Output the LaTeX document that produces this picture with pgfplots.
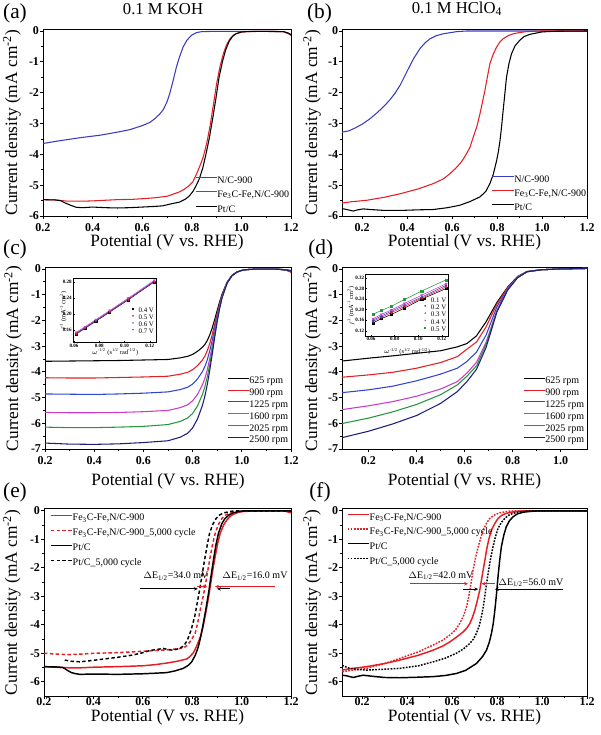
\documentclass[border=0pt]{standalone}
\usepackage{fontspec}
\setmainfont{Liberation Serif}
\usepackage{pgfplots}
\pgfplotsset{compat=1.18}
\usetikzlibrary{arrows.meta}

\definecolor{cblue}{RGB}{60,60,190}
\definecolor{cred}{RGB}{228,30,36}
\definecolor{rblue}{RGB}{50,70,205}
\definecolor{rmag}{RGB}{200,60,200}
\definecolor{rgreen}{RGB}{40,150,60}
\definecolor{rnavy}{RGB}{30,30,120}

\pgfplotsset{
  panel/.style={
    scale only axis,
    axis line style={line width=0.7pt},
    every tick/.style={black, line width=0.6pt},
    tick align=outside,
    xtick pos=bottom, ytick pos=left,
    major tick length=2pt, minor tick length=1.2pt,
    minor x tick num=1, minor y tick num=1,
    tick label style={font=\bfseries\fontsize{9}{9}\selectfont},
    xticklabel style={inner sep=0.5pt, yshift=-2.8pt},
    yticklabel style={inner sep=0.8pt},
    label style={font=\fontsize{13}{13}\selectfont, inner sep=0pt},
    xlabel={Potential (V vs.\ RHE)},
    ylabel={Current density (mA cm\textsuperscript{-2})},
    ylabel style={at={(axis description cs:-0.125,0.5)}, anchor=center},
    legend cell align=left,
    legend style={draw=none, fill=none, inner sep=0pt, outer sep=0pt,
      font=\fontsize{7.5}{8}\selectfont,
      nodes={inner sep=0pt, text height=5.5pt, text depth=1.5pt},
      /tikz/every even column/.append style={column sep=1.5pt}},
    legend image code/.code={\draw[##1] (0pt,2.3pt) -- (16pt,2.3pt);},
    every axis plot/.append style={line width=0.8pt},
  },
  inset/.style={
    scale only axis,
    axis background/.style={fill=white},
    axis line style={line width=0.4pt},
    every tick/.style={black, line width=0.3pt},
    tick align=inside,
    xtick pos=bottom, ytick pos=left,
    major tick length=1.2pt,
    tick label style={font=\bfseries\fontsize{3.8}{4}\selectfont},
    xticklabel style={inner sep=0.6pt},
    yticklabel style={inner sep=1pt},
    label style={font=\fontsize{4.8}{5}\selectfont, inner sep=0pt},
    xlabel={$\omega$\textsuperscript{-1/2} (s\textsuperscript{1/2} rad\textsuperscript{-1/2})},
    ylabel={\textit{j}\textsuperscript{-1} (mA\textsuperscript{-1} cm\textsuperscript{2})},
    xmin=0.0595, xmax=0.1255,
    xtick={0.06,0.08,0.10,0.12},
    xticklabels={0.06,0.08,0.10,0.12},
    legend cell align=left,
    legend style={draw=none, fill=none, inner sep=0pt, outer sep=0pt,
      font=\fontsize{5.2}{5.5}\selectfont,
      /tikz/every even column/.append style={column sep=1pt}},
    legend image code/.code={\draw[##1, draw opacity=0, mark repeat=2, mark phase=2] plot coordinates {(0pt,1.8pt) (2pt,1.8pt) (4pt,1.8pt)};},
    every axis plot/.append style={line width=0.4pt, mark size=0.8pt},
  },
}

\begin{document}
\begin{tikzpicture}
\path[use as bounding box] (0pt,0pt) rectangle (450pt,551.25pt);

% ---------------- (a) ----------------
\begin{axis}[panel, at={(32.25pt,389.25pt)}, anchor=south west,
  width=186pt, height=139.9pt,
  xmin=0.2, xmax=1.2, ymin=-6, ymax=0.05,
  xtick={0.2,0.4,...,1.21}, xticklabels={0.2,0.4,0.6,0.8,1.0,1.2},
  ytick={-6,-5,...,0}, yticklabels={-6,-5,-4,-3,-2,-1,0},
  xlabel style={at={(axis description cs:0.5,-0.14)}, anchor=center},
  legend style={at={(rel axis cs:0.613,0.216)}, anchor=north west, row sep=3.9pt}]
\addplot[cblue] coordinates {(0.2,-3.65) (0.25,-3.58) (0.3,-3.52) (0.35,-3.46) (0.4,-3.41) (0.43,-3.38) (0.5,-3.28) (0.55,-3.2) (0.6,-3.07) (0.63,-2.97) (0.65,-2.85) (0.67,-2.7) (0.685,-2.55) (0.70,-2.3) (0.711,-2.03) (0.725,-1.6) (0.738,-1.17) (0.75,-0.85) (0.765,-0.52) (0.78,-0.3) (0.8,-0.13) (0.82,-0.05) (0.84,-0.02) (0.9,-0.01) (1.0,-0.01) (1.1,-0.01) (1.17,-0.02) (1.2,-0.12)};
\addlegendentry{N/C-900}
\addplot[cred] coordinates {(0.2,-5.47) (0.25,-5.48) (0.3,-5.52) (0.36,-5.52) (0.4,-5.51) (0.45,-5.49) (0.5,-5.47) (0.56,-5.46) (0.6,-5.44) (0.65,-5.41) (0.7,-5.36) (0.75,-5.22) (0.77,-5.13) (0.79,-5.01) (0.805,-4.88) (0.82,-4.62) (0.835,-4.33) (0.846,-4.09) (0.86,-3.65) (0.873,-3.11) (0.887,-2.4) (0.9,-1.71) (0.913,-1.18) (0.927,-0.74) (0.94,-0.45) (0.954,-0.25) (0.967,-0.14) (0.98,-0.08) (1.0,-0.04) (1.02,-0.02) (1.1,-0.01) (1.17,-0.02) (1.19,-0.08) (1.2,-0.15)};
\addlegendentry{Fe\textsubscript{3}C-Fe,N/C-900}
\addplot[black] coordinates {(0.2,-5.47) (0.25,-5.48) (0.27,-5.5) (0.29,-5.58) (0.314,-5.66) (0.335,-5.72) (0.36,-5.73) (0.4,-5.71) (0.45,-5.73) (0.5,-5.74) (0.55,-5.73) (0.6,-5.71) (0.65,-5.69) (0.683,-5.67) (0.72,-5.6) (0.75,-5.55) (0.775,-5.45) (0.79,-5.35) (0.805,-5.2) (0.817,-5.02) (0.83,-4.8) (0.844,-4.45) (0.857,-4.0) (0.87,-3.5) (0.884,-2.85) (0.897,-2.2) (0.91,-1.5) (0.924,-0.98) (0.937,-0.6) (0.951,-0.33) (0.965,-0.17) (0.978,-0.09) (1.0,-0.03) (1.05,-0.01) (1.17,-0.02) (1.19,-0.07) (1.2,-0.12)};
\addlegendentry{Pt/C}
\end{axis}

% ---------------- (b) ----------------
\begin{axis}[panel, at={(256.5pt,389.25pt)}, anchor=south west,
  width=183.75pt, height=139.9pt,
  xmin=0.11, xmax=1.2, ymin=-6, ymax=0.05,
  xtick={0.2,0.4,...,1.21}, xticklabels={0.2,0.4,0.6,0.8,1.0,1.2},
  ytick={-6,-5,...,0}, yticklabels={-6,-5,-4,-3,-2,-1,0},
  ylabel style={at={(axis description cs:-0.122,0.5)}, anchor=center},
  xlabel style={at={(axis description cs:0.5,-0.14)}, anchor=center},
  legend style={at={(rel axis cs:0.612,0.221)}, anchor=north west, row sep=3.5pt}]
\addplot[cblue] coordinates {(0.11,-3.28) (0.14,-3.24) (0.17,-3.14) (0.2,-3.02) (0.23,-2.87) (0.26,-2.69) (0.29,-2.49) (0.32,-2.26) (0.345,-2.03) (0.37,-1.74) (0.398,-1.33) (0.428,-0.9) (0.457,-0.57) (0.48,-0.38) (0.502,-0.25) (0.53,-0.15) (0.561,-0.09) (0.62,-0.02) (0.664,0) (1.2,0)};
\addlegendentry{N/C-900}
\addplot[cred] coordinates {(0.11,-5.58) (0.15,-5.54) (0.22,-5.49) (0.3,-5.39) (0.368,-5.28) (0.45,-5.12) (0.516,-4.95) (0.56,-4.8) (0.59,-4.63) (0.615,-4.46) (0.635,-4.3) (0.65,-4.15) (0.664,-3.98) (0.68,-3.76) (0.694,-3.44) (0.71,-3.1) (0.724,-2.68) (0.735,-2.3) (0.746,-1.92) (0.757,-1.48) (0.768,-1.06) (0.783,-0.75) (0.798,-0.52) (0.812,-0.36) (0.827,-0.25) (0.85,-0.15) (0.872,-0.09) (0.9,-0.05) (0.93,-0.02) (0.99,0) (1.2,0)};
\addlegendentry{Fe\textsubscript{3}C-Fe,N/C-900}
\addplot[black] coordinates {(0.11,-5.76) (0.131,-5.79) (0.16,-5.84) (0.18,-5.8) (0.205,-5.77) (0.235,-5.79) (0.3,-5.82) (0.368,-5.82) (0.45,-5.8) (0.516,-5.79) (0.58,-5.73) (0.635,-5.65) (0.68,-5.53) (0.724,-5.38) (0.75,-5.2) (0.768,-4.95) (0.783,-4.65) (0.798,-4.2) (0.806,-3.9) (0.813,-3.55) (0.82,-3.1) (0.827,-2.57) (0.835,-2.0) (0.842,-1.49) (0.853,-1.05) (0.864,-0.74) (0.88,-0.48) (0.901,-0.3) (0.92,-0.18) (0.945,-0.11) (1.0,-0.03) (1.05,-0.01) (1.2,0)};
\addlegendentry{Pt/C}
\end{axis}

% ---------------- (c) ----------------
\begin{axis}[panel, at={(33.75pt,214.5pt)}, anchor=south west,
  width=184.5pt, height=136pt,
  xmin=0.2, xmax=1.2, ymin=-7, ymax=0.05,
  xtick={0.2,0.4,...,1.21}, xticklabels={0.2,0.4,0.6,0.8,1.0,1.2},
  ytick={-7,-6,...,0}, yticklabels={-7,-6,-5,-4,-3,-2,-1,0},
  ylabel style={at={(axis description cs:-0.13,0.5)}, anchor=center},
  xlabel style={at={(axis description cs:0.5,-0.177)}, anchor=center},
  legend style={at={(rel axis cs:0.74,0.399)}, anchor=north west, row sep=1.85pt}]
\addplot[black] coordinates {(0.2,-3.59) (0.3,-3.58) (0.4,-3.57) (0.5,-3.56) (0.6,-3.54) (0.7,-3.52) (0.75,-3.456) (0.78,-3.397) (0.80,-3.322) (0.82,-3.202) (0.84,-3.044) (0.85,-2.934) (0.86,-2.775) (0.87,-2.558) (0.88,-2.288) (0.89,-1.955) (0.90,-1.608) (0.91,-1.271) (0.92,-0.971) (0.94,-0.516) (0.96,-0.253) (0.98,-0.119) (1.0,-0.055) (1.02,-0.025) (1.05,-0.01) (1.1,-0.005) (1.15,-0.01) (1.18,-0.03) (1.2,-0.06)};
\addlegendentry{625 rpm}
\addplot[cred] coordinates {(0.2,-4.23) (0.3,-4.24) (0.4,-4.24) (0.5,-4.22) (0.6,-4.20) (0.7,-4.17) (0.75,-4.093) (0.78,-4.017) (0.80,-3.920) (0.82,-3.761) (0.84,-3.541) (0.85,-3.388) (0.86,-3.173) (0.87,-2.889) (0.88,-2.546) (0.89,-2.141) (0.90,-1.731) (0.91,-1.347) (0.92,-1.014) (0.94,-0.528) (0.96,-0.256) (0.98,-0.120) (1.0,-0.055) (1.02,-0.025) (1.05,-0.01) (1.1,-0.005) (1.15,-0.015) (1.18,-0.05) (1.2,-0.13)};
\addlegendentry{900 rpm}
\addplot[rblue] coordinates {(0.2,-4.86) (0.3,-4.87) (0.4,-4.88) (0.5,-4.86) (0.6,-4.83) (0.7,-4.78) (0.75,-4.689) (0.78,-4.597) (0.80,-4.476) (0.82,-4.276) (0.84,-3.992) (0.85,-3.794) (0.86,-3.523) (0.87,-3.172) (0.88,-2.762) (0.89,-2.291) (0.90,-1.828) (0.91,-1.405) (0.92,-1.047) (0.94,-0.537) (0.96,-0.258) (0.98,-0.121) (1.0,-0.056) (1.02,-0.025) (1.05,-0.01) (1.1,-0.005) (1.15,-0.012) (1.18,-0.04) (1.2,-0.1)};
\addlegendentry{1225 rpm}
\addplot[rmag] coordinates {(0.2,-5.58) (0.3,-5.59) (0.4,-5.59) (0.5,-5.58) (0.6,-5.55) (0.7,-5.50) (0.75,-5.391) (0.78,-5.279) (0.80,-5.128) (0.82,-4.875) (0.84,-4.505) (0.85,-4.249) (0.86,-3.907) (0.87,-3.477) (0.88,-2.988) (0.89,-2.444) (0.90,-1.925) (0.91,-1.461) (0.92,-1.078) (0.94,-0.545) (0.96,-0.260) (0.98,-0.121) (1.0,-0.056) (1.02,-0.025) (1.05,-0.01) (1.1,-0.005) (1.15,-0.012) (1.18,-0.04) (1.2,-0.09)};
\addlegendentry{1600 rpm}
\addplot[rgreen] coordinates {(0.2,-6.15) (0.3,-6.17) (0.4,-6.17) (0.5,-6.15) (0.6,-6.12) (0.7,-6.05) (0.75,-5.927) (0.78,-5.796) (0.80,-5.620) (0.82,-5.323) (0.84,-4.884) (0.85,-4.579) (0.86,-4.183) (0.87,-3.692) (0.88,-3.143) (0.89,-2.547) (0.90,-1.988) (0.91,-1.497) (0.92,-1.097) (0.94,-0.550) (0.96,-0.262) (0.98,-0.122) (1.0,-0.056) (1.02,-0.025) (1.05,-0.01) (1.1,-0.005) (1.15,-0.012) (1.18,-0.04) (1.2,-0.08)};
\addlegendentry{2025 rpm}
\addplot[rnavy] coordinates {(0.2,-6.77) (0.3,-6.81) (0.4,-6.82) (0.5,-6.80) (0.6,-6.75) (0.7,-6.68) (0.75,-6.540) (0.78,-6.389) (0.80,-6.182) (0.82,-5.830) (0.84,-5.304) (0.85,-4.944) (0.86,-4.481) (0.87,-3.919) (0.88,-3.305) (0.89,-2.653) (0.90,-2.051) (0.91,-1.533) (0.92,-1.116) (0.94,-0.555) (0.96,-0.263) (0.98,-0.122) (1.0,-0.056) (1.02,-0.025) (1.05,-0.01) (1.1,-0.005) (1.15,-0.012) (1.18,-0.04) (1.2,-0.08)};
\addlegendentry{2500 rpm}
\end{axis}

% inset (c)
\begin{axis}[inset, at={(55pt,294.2pt)}, anchor=south west,
  width=62.5pt, height=48.3pt,
  ymin=0.128, ymax=0.29, ytick={0.16,0.20,0.24,0.28}, yticklabels={0.16,0.20,0.24,0.28},
  ylabel style={at={(axis description cs:-0.12,0.5)}, anchor=center},
  xlabel style={at={(axis description cs:0.5,-0.145)}, anchor=center},
  legend style={at={(rel axis cs:1.0,0.58)}, anchor=north east, row sep=-3.75pt}]
\addplot[black, mark=square*] coordinates {(0.0618,0.150) (0.0687,0.164) (0.0773,0.182) (0.0883,0.205) (0.1030,0.236) (0.1236,0.281)};
\addlegendentry{0.4 V}
\addplot[cred, mark=*] coordinates {(0.0618,0.151) (0.0687,0.165) (0.0773,0.183) (0.0883,0.206) (0.1030,0.237) (0.1236,0.282)};
\addlegendentry{0.5 V}
\addplot[rblue, mark=triangle*] coordinates {(0.0618,0.152) (0.0687,0.166) (0.0773,0.184) (0.0883,0.207) (0.1030,0.238) (0.1236,0.283)};
\addlegendentry{0.6 V}
\addplot[rmag, mark=triangle*, mark options={rotate=180}] coordinates {(0.0618,0.154) (0.0687,0.168) (0.0773,0.186) (0.0883,0.209) (0.1030,0.240) (0.1236,0.285)};
\addlegendentry{0.7 V}
\end{axis}

% ---------------- (d) ----------------
\begin{axis}[panel, at={(256.5pt,214.5pt)}, anchor=south west,
  width=183.75pt, height=136pt,
  xmin=0.09, xmax=1.11, ymin=-7, ymax=0.05,
  xtick={0.2,0.4,...,1.01}, xticklabels={0.2,0.4,0.6,0.8,1.0},
  ytick={-7,-6,...,0}, yticklabels={-7,-6,-5,-4,-3,-2,-1,0},
  ylabel style={at={(axis description cs:-0.122,0.5)}, anchor=center},
  xlabel style={at={(axis description cs:0.5,-0.177)}, anchor=center},
  legend style={at={(rel axis cs:0.739,0.399)}, anchor=north west, row sep=1.85pt}]
\addplot[black] coordinates {(0.09,-3.58) (0.2,-3.47) (0.3,-3.38) (0.4,-3.28) (0.5,-3.18) (0.57,-3.03) (0.61,-2.90) (0.65,-2.60) (0.69,-2.05) (0.735,-1.30) (0.78,-0.70) (0.82,-0.30) (0.86,-0.10) (0.92,-0.03) (1.0,0) (1.11,0.02)};
\addlegendentry{625 rpm}
\addplot[cred] coordinates {(0.09,-4.21) (0.2,-4.12) (0.3,-4.02) (0.4,-3.86) (0.5,-3.64) (0.57,-3.41) (0.61,-3.12) (0.65,-2.84) (0.69,-2.25) (0.735,-1.36) (0.78,-0.72) (0.82,-0.31) (0.86,-0.10) (0.92,-0.03) (1.0,0) (1.11,0.02)};
\addlegendentry{900 rpm}
\addplot[rblue] coordinates {(0.09,-4.81) (0.2,-4.70) (0.3,-4.56) (0.4,-4.35) (0.5,-4.09) (0.57,-3.86) (0.61,-3.60) (0.65,-3.23) (0.69,-2.57) (0.735,-1.47) (0.78,-0.75) (0.82,-0.32) (0.86,-0.11) (0.92,-0.03) (1.0,0) (1.11,0.02)};
\addlegendentry{1225 rpm}
\addplot[rmag] coordinates {(0.09,-5.47) (0.2,-5.32) (0.3,-5.16) (0.4,-4.95) (0.5,-4.67) (0.57,-4.38) (0.61,-4.05) (0.65,-3.63) (0.69,-2.85) (0.735,-1.60) (0.78,-0.78) (0.82,-0.33) (0.86,-0.11) (0.92,-0.03) (1.0,0) (1.11,0.02)};
\addlegendentry{1600 rpm}
\addplot[rgreen] coordinates {(0.09,-6.01) (0.2,-5.80) (0.3,-5.56) (0.4,-5.27) (0.5,-4.89) (0.57,-4.51) (0.61,-4.17) (0.65,-3.77) (0.69,-2.93) (0.735,-1.64) (0.78,-0.80) (0.82,-0.34) (0.86,-0.11) (0.92,-0.03) (1.0,0) (1.11,0.02)};
\addlegendentry{2025 rpm}
\addplot[rnavy] coordinates {(0.09,-6.56) (0.2,-6.31) (0.3,-6.03) (0.4,-5.70) (0.5,-5.23) (0.57,-4.77) (0.61,-4.38) (0.65,-3.90) (0.69,-3.05) (0.735,-1.67) (0.78,-0.82) (0.82,-0.35) (0.86,-0.11) (0.92,-0.03) (1.0,0) (1.11,0.02)};
\addlegendentry{2500 rpm}
\end{axis}

% inset (d)
\begin{axis}[inset, at={(274.3pt,299pt)}, anchor=south west,
  width=62pt, height=46.2pt,
  xmin=0.0555, xmax=0.1256,
  ymin=0.099, ymax=0.3325, ytick={0.12,0.16,...,0.33}, yticklabels={0.12,0.16,0.20,0.24,0.28,0.32},
  ylabel style={at={(axis description cs:-0.178,0.5)}, anchor=center},
  xlabel style={at={(axis description cs:0.5,-0.25)}, anchor=center},
  legend style={at={(rel axis cs:0.685,0.67)}, anchor=north west, row sep=-3.5pt}]
\addplot[black, mark=square*] coordinates {(0.0618,0.150) (0.0687,0.166) (0.0773,0.182) (0.0883,0.206) (0.1030,0.240) (0.1236,0.280)};
\addlegendentry{0.1 V}
\addplot[cred, mark=*] coordinates {(0.0618,0.156) (0.0687,0.171) (0.0773,0.189) (0.0883,0.212) (0.1030,0.244) (0.1236,0.286)};
\addlegendentry{0.2 V}
\addplot[rblue, mark=triangle*] coordinates {(0.0618,0.161) (0.0687,0.176) (0.0773,0.194) (0.0883,0.218) (0.1030,0.248) (0.1236,0.292)};
\addlegendentry{0.3 V}
\addplot[rmag, mark=triangle*, mark options={rotate=180}] coordinates {(0.0618,0.166) (0.0687,0.182) (0.0773,0.199) (0.0883,0.224) (0.1030,0.255) (0.1236,0.298)};
\addlegendentry{0.4 V}
\addplot[rgreen, mark=square*] coordinates {(0.0618,0.183) (0.0687,0.197) (0.0773,0.213) (0.0883,0.238) (0.1030,0.271) (0.1236,0.313)};
\addlegendentry{0.5 V}
\end{axis}

% ---------------- (e) ----------------
\begin{axis}[panel, at={(33pt,29.25pt)}, anchor=south west,
  width=185.25pt, height=140.4pt,
  xmin=0.2, xmax=1.2, ymin=-6.5, ymax=0.07,
  xtick={0.2,0.4,...,1.21}, xticklabels={0.2,0.4,0.6,0.8,1.0,1.2},
  ytick={-6,-5,...,0}, yticklabels={-6,-5,-4,-3,-2,-1,0},
  every axis plot/.append style={line width=1.1pt},
  xticklabel style={yshift=4pt},
  ylabel style={at={(axis description cs:-0.13,0.5)}, anchor=center},
  xlabel style={at={(axis description cs:0.5,-0.112)}, anchor=center},
  legend style={at={(rel axis cs:0.024,0.974)}, anchor=north west, row sep=4.25pt}]
\addplot[cred] coordinates {(0.2,-5.47) (0.25,-5.49) (0.3,-5.51) (0.35,-5.51) (0.4,-5.49) (0.5,-5.47) (0.6,-5.44) (0.65,-5.4) (0.7,-5.34) (0.74,-5.28) (0.778,-5.2) (0.79,-5.12) (0.805,-4.98) (0.818,-4.75) (0.832,-4.45) (0.842,-4.15) (0.852,-3.72) (0.863,-3.2) (0.873,-2.67) (0.883,-2.1) (0.893,-1.61) (0.903,-1.15) (0.913,-0.8) (0.927,-0.5) (0.94,-0.33) (0.953,-0.2) (0.967,-0.12) (0.99,-0.05) (1.01,-0.02) (1.1,0) (1.17,0) (1.2,-0.07)};
\addlegendentry{Fe\textsubscript{3}C-Fe,N/C-900}
\addplot[cred, dash pattern=on 2.6pt off 1.8pt] coordinates {(0.2,-5.0) (0.25,-5.03) (0.3,-5.05) (0.35,-5.03) (0.4,-5.0) (0.5,-4.98) (0.6,-4.93) (0.7,-4.88) (0.764,-4.82) (0.78,-4.72) (0.795,-4.55) (0.812,-4.3) (0.822,-3.95) (0.832,-3.49) (0.842,-3.1) (0.852,-2.67) (0.862,-2.15) (0.873,-1.61) (0.883,-1.15) (0.893,-0.8) (0.906,-0.48) (0.92,-0.27) (0.937,-0.14) (0.954,-0.07) (0.975,-0.02) (0.994,0) (1.2,0)};
\addlegendentry{Fe\textsubscript{3}C-Fe,N/C-900\_5,000 cycle}
\addplot[black] coordinates {(0.2,-5.47) (0.25,-5.48) (0.277,-5.5) (0.295,-5.6) (0.311,-5.68) (0.33,-5.72) (0.345,-5.74) (0.4,-5.73) (0.5,-5.74) (0.6,-5.72) (0.65,-5.7) (0.697,-5.68) (0.73,-5.62) (0.764,-5.53) (0.785,-5.42) (0.798,-5.3) (0.812,-5.08) (0.825,-4.77) (0.835,-4.4) (0.845,-3.95) (0.856,-3.42) (0.866,-2.9) (0.876,-2.3) (0.886,-1.73) (0.896,-1.2) (0.906,-0.8) (0.92,-0.45) (0.933,-0.27) (0.95,-0.14) (0.967,-0.07) (0.99,-0.02) (1.008,0) (1.2,0)};
\addlegendentry{Pt/C}
\addplot[black, dash pattern=on 2.6pt off 1.8pt] coordinates {(0.284,-5.24) (0.31,-5.28) (0.345,-5.3) (0.38,-5.27) (0.426,-5.22) (0.5,-5.14) (0.561,-5.06) (0.6,-4.98) (0.63,-4.9) (0.656,-4.87) (0.683,-4.83) (0.705,-4.88) (0.724,-4.89) (0.745,-4.84) (0.765,-4.75) (0.78,-4.55) (0.795,-4.2) (0.81,-3.72) (0.82,-3.25) (0.83,-2.78) (0.84,-2.25) (0.85,-1.73) (0.86,-1.25) (0.87,-0.8) (0.883,-0.48) (0.897,-0.27) (0.912,-0.14) (0.93,-0.07) (0.95,-0.03) (0.97,0) (1.2,0)};
\addlegendentry{Pt/C\_5,000 cycle}
\draw[black, line width=0.6pt, -{Stealth[length=3pt,width=2.6pt]}] (axis cs:0.589,-2.74) -- (axis cs:0.823,-2.74);
\draw[black, line width=0.6pt, -{Stealth[length=3pt,width=2.6pt]}] (axis cs:0.953,-2.74) -- (axis cs:0.90,-2.74);
\draw[cred, line width=0.6pt, -{Stealth[length=3pt,width=2.6pt]}] (axis cs:0.82,-2.66) -- (axis cs:0.86,-2.66);
\draw[cred, line width=0.6pt, -{Stealth[length=3pt,width=2.6pt]}] (axis cs:1.135,-2.66) -- (axis cs:0.892,-2.66);
\node[font=\fontsize{7.5}{8}\selectfont] at (axis cs:0.734,-2.3) {$\Delta$E\textsubscript{1/2}=34.0 mV};
\node[font=\fontsize{7.5}{8}\selectfont] at (axis cs:1.054,-2.3) {$\Delta$E\textsubscript{1/2}=16.0 mV};
\end{axis}

% ---------------- (f) ----------------
\begin{axis}[panel, at={(256.5pt,29.25pt)}, anchor=south west,
  width=183.75pt, height=140.4pt,
  xmin=0.11, xmax=1.2, ymin=-6.5, ymax=0.07,
  xtick={0.2,0.4,...,1.21}, xticklabels={0.2,0.4,0.6,0.8,1.0,1.2},
  ytick={-6,-5,...,0}, yticklabels={-6,-5,-4,-3,-2,-1,0},
  every axis plot/.append style={line width=1.1pt},
  xticklabel style={yshift=4pt},
  ylabel style={at={(axis description cs:-0.122,0.5)}, anchor=center},
  xlabel style={at={(axis description cs:0.5,-0.112)}, anchor=center},
  legend style={at={(rel axis cs:0.02,0.979)}, anchor=north west, row sep=4pt}]
\addplot[cred] coordinates {(0.111,-5.59) (0.15,-5.54) (0.219,-5.47) (0.3,-5.36) (0.367,-5.24) (0.45,-5.07) (0.516,-4.89) (0.56,-4.74) (0.59,-4.6) (0.62,-4.43) (0.649,-4.25) (0.665,-4.12) (0.679,-3.95) (0.69,-3.75) (0.701,-3.49) (0.712,-3.15) (0.723,-2.78) (0.73,-2.45) (0.738,-2.08) (0.746,-1.72) (0.753,-1.38) (0.763,-1.0) (0.775,-0.68) (0.79,-0.44) (0.804,-0.27) (0.82,-0.16) (0.841,-0.09) (0.87,-0.04) (0.9,-0.01) (0.96,0) (1.2,0)};
\addlegendentry{Fe\textsubscript{3}C-Fe,N/C-900}
\addplot[cred, dash pattern=on 1.3pt off 1pt] coordinates {(0.111,-5.65) (0.15,-5.6) (0.219,-5.53) (0.3,-5.36) (0.367,-5.18) (0.45,-4.95) (0.516,-4.71) (0.56,-4.53) (0.59,-4.36) (0.615,-4.18) (0.634,-3.95) (0.65,-3.7) (0.664,-3.37) (0.672,-3.08) (0.679,-2.78) (0.686,-2.45) (0.693,-2.08) (0.704,-1.65) (0.716,-1.26) (0.727,-0.95) (0.738,-0.68) (0.752,-0.45) (0.767,-0.27) (0.79,-0.14) (0.812,-0.07) (0.856,-0.01) (0.9,0) (1.2,0)};
\addlegendentry{Fe\textsubscript{3}C-Fe,N/C-900\_5,000 cycle}
\addplot[black] coordinates {(0.111,-5.77) (0.13,-5.79) (0.145,-5.82) (0.16,-5.85) (0.18,-5.81) (0.204,-5.77) (0.225,-5.79) (0.26,-5.82) (0.3,-5.85) (0.367,-5.86) (0.45,-5.84) (0.516,-5.82) (0.57,-5.78) (0.619,-5.71) (0.66,-5.6) (0.708,-5.36) (0.735,-5.12) (0.753,-4.89) (0.765,-4.62) (0.775,-4.3) (0.783,-3.95) (0.79,-3.49) (0.797,-2.95) (0.804,-2.32) (0.811,-1.78) (0.819,-1.26) (0.83,-0.85) (0.841,-0.56) (0.855,-0.35) (0.871,-0.21) (0.89,-0.11) (0.916,-0.05) (0.95,-0.02) (0.99,0) (1.2,0)};
\addlegendentry{Pt/C}
\addplot[black, dash pattern=on 1.3pt off 1pt] coordinates {(0.111,-5.42) (0.13,-5.49) (0.145,-5.53) (0.18,-5.57) (0.219,-5.59) (0.3,-5.56) (0.367,-5.53) (0.45,-5.44) (0.516,-5.3) (0.57,-5.17) (0.619,-5.0) (0.65,-4.85) (0.679,-4.65) (0.695,-4.5) (0.708,-4.3) (0.72,-4.05) (0.73,-3.72) (0.738,-3.4) (0.745,-3.02) (0.752,-2.62) (0.76,-2.2) (0.77,-1.72) (0.782,-1.26) (0.793,-0.9) (0.804,-0.62) (0.818,-0.42) (0.834,-0.27) (0.85,-0.16) (0.871,-0.09) (0.9,-0.04) (0.93,-0.01) (0.97,0) (1.2,0)};
\addlegendentry{Pt/C\_5,000 cycle}
\draw[cred, line width=0.6pt, -{Stealth[length=3pt,width=2.6pt]}] (axis cs:0.412,-2.56) -- (axis cs:0.671,-2.56);
\draw[cred, line width=0.6pt, -{Stealth[length=3pt,width=2.6pt]}] (axis cs:0.79,-2.56) -- (axis cs:0.731,-2.56);
\draw[black, line width=0.6pt, -{Stealth[length=3pt,width=2.6pt]}] (axis cs:0.649,-2.75) -- (axis cs:0.716,-2.75);
\draw[black, line width=0.6pt, -{Stealth[length=3pt,width=2.6pt]}] (axis cs:1.093,-2.75) -- (axis cs:0.79,-2.75);
\node[font=\fontsize{7.5}{8}\selectfont] at (axis cs:0.55,-2.27) {$\Delta$E\textsubscript{1/2}=42.0 mV};
\node[font=\fontsize{7.5}{8}\selectfont] at (axis cs:0.95,-2.53) {$\Delta$E\textsubscript{1/2}=56.0 mV};
\end{axis}

% titles and panel labels
\node[font=\fontsize{12.5}{13}\selectfont] at (122.25pt,544.5pt) {0.1 M KOH};
\node[font=\fontsize{12.5}{13}\selectfont] at (342.75pt,544.5pt) {0.1 M HClO\textsubscript{4}};
\node[font=\fontsize{16}{16}\selectfont] at (11.25pt,541.1pt) {(a)};
\node[font=\fontsize{16}{16}\selectfont] at (239.6pt,541.1pt) {(b)};
\node[font=\fontsize{16}{16}\selectfont] at (11.25pt,364.5pt) {(c)};
\node[font=\fontsize{16}{16}\selectfont] at (240.6pt,364.5pt) {(d)};
\node[font=\fontsize{16}{16}\selectfont] at (11.25pt,182.25pt) {(e)};
\node[font=\fontsize{16}{16}\selectfont] at (240pt,182.25pt) {(f)};
\end{tikzpicture}
\end{document}
